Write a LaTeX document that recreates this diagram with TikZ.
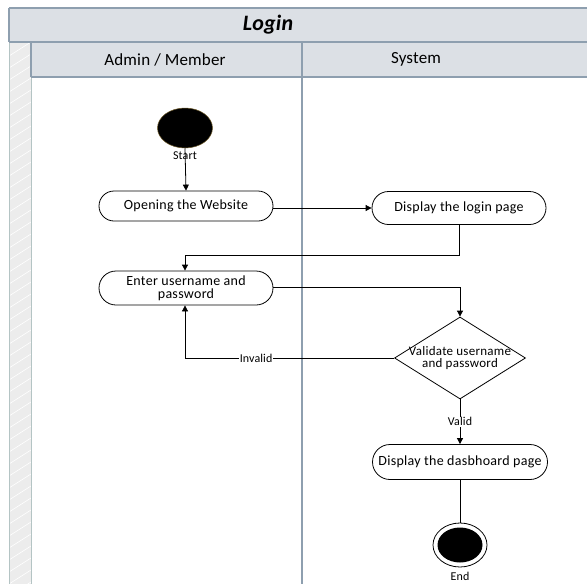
\documentclass[tikz,border=0pt]{standalone}
\usepackage{fontspec}
\setmainfont{Carlito}
\usetikzlibrary{shapes.misc,shapes.geometric,arrows.meta}

\definecolor{headfill}{HTML}{DCE0E5}
\definecolor{headline}{HTML}{8E9FAF}
\definecolor{stripfill}{HTML}{ECECEC}
\definecolor{stripline}{HTML}{B4C4C4}

\newcommand{\nodefont}{\fontsize{14}{13}\selectfont\addfontfeature{LetterSpace=2}}
\newcommand{\choicefont}{\fontsize{13}{12}\selectfont\addfontfeature{LetterSpace=2}}
\newcommand{\tagfont}{\fontsize{12}{12}\selectfont\addfontfeature{LetterSpace=1}}
\newcommand{\headfont}{\fontsize{17}{18}\selectfont\addfontfeature{LetterSpace=1}}

\tikzset{
  action/.style={rounded rectangle, draw=black, line width=0.8pt, fill=white,
    minimum width=178pt, minimum height=30pt, inner sep=2pt,
    font=\nodefont, align=center},
  decision/.style={diamond, draw=black, line width=0.8pt, fill=white,
    minimum width=131pt, minimum height=82pt, inner sep=0pt},
  choicetext/.style={font=\choicefont, align=center, inner sep=0pt},
  flow/.style={line width=0.8pt, -{Triangle[length=6pt,width=6pt]}},
  plain/.style={line width=0.8pt},
  tag/.style={font=\tagfont, inner sep=1pt, fill=white},
  lanehead/.style={font=\headfont},
}

\begin{document}
\begin{tikzpicture}[x=1pt,y=-1pt]
\useasboundingbox (0,0) rectangle (587,584);
\fill[white] (0,0) rectangle (587,584);

% pool frame: title band, lane headers, left strip
\fill[headfill] (9,8) rectangle (590,77);
\fill[stripfill] (9,42) rectangle (31,590);
\begin{scope}
  \clip (9,42) rectangle (31,590);
  \foreach \k in {0,12,...,560}
    \draw[white, line width=0.6pt] (9,42+\k+14) -- (31,42+\k);
\end{scope}
\draw[stripline, line width=1pt] (9,42) -- (9,590) (31,77) -- (31,590);
\draw[headline, line width=1.2pt] (9,8) -- (590,8) (9,8) -- (9,42);
\draw[headline, line width=1.2pt] (9,42) -- (590,42);
\draw[headline, line width=1.2pt] (31,42) -- (31,77);
\draw[headline, line width=1.2pt] (31,77) -- (590,77);
\draw[headline, line width=1.2pt] (302,42) -- (302,590);

\node[font=\fontsize{22}{24}\selectfont\bfseries\itshape\addfontfeature{LetterSpace=1}] (title) at (268,25) {Login};
\node[lanehead] (laneA) at (165,59.5) {Admin / Member};
\node[lanehead] (laneB) at (416,59.5) {System};

% activity nodes
\node[ellipse, draw={rgb,255:red,110;green,90;blue,40}, line width=0.5pt, fill=black,
  minimum width=55pt, minimum height=40pt, inner sep=0pt] (start) at (185,128) {};
\node[font=\tagfont, inner sep=0pt] (startlbl) at (185,156) {Start};

\node[action] (open) at (186,206) {Opening the Website};
\node[action, minimum height=33pt] (login) at (459,208) {Display the login page};
\node[action, minimum height=34pt] (enter) at (186,288) {Enter username and\\password};
\node[decision] (check) at (460,358) {};
\node[choicetext] (checktext) at (check.center) {Validate username\\and password};
\node[action, minimum width=179pt, minimum height=35pt] (dash) at (460,462) {Display the dasbhoard page};

\node[ellipse, draw=black, line width=0.8pt, fill=white,
  minimum width=54pt, minimum height=44pt, inner sep=0pt] (finish) at (460,545) {};
\node[ellipse, fill=black, minimum width=45pt, minimum height=35pt, inner sep=0pt] (finishdot) at (460,545) {};
\node[font=\tagfont, inner sep=0pt] (endlbl) at (460,576) {End};

% connectors
\draw[flow] (start.south) -- (open.north);
\draw[flow] (open.east |- login.west) -- (login.west);
\draw[flow] (login.south) |- (185,255) -- (enter.north -| 185,0);
\draw[flow] (enter.east |- 0,287) -| (check.north);
\draw[flow] (check.west) -| (enter.south -| 185,0)
  node[tag, pos=0.33] (invalid) {Invalid};
\draw[flow] (check.south) -- (dash.north)
  node[tag, midway] (valid) {Valid};
\draw[plain] (dash.south) -- (finish.north);
\end{tikzpicture}
\end{document}
